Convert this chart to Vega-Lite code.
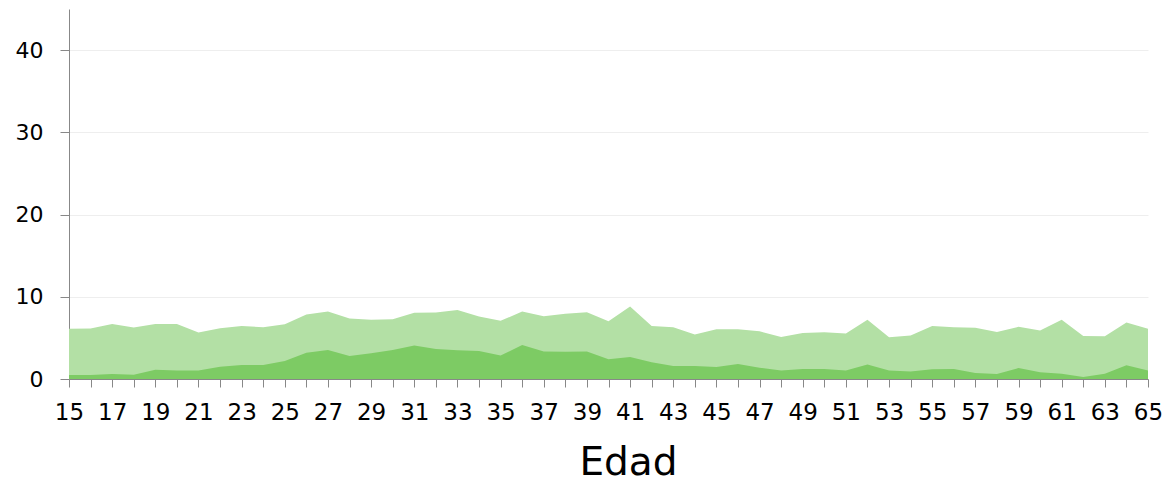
{
  "$schema": "https://vega.github.io/schema/vega-lite/v6.json",
  "width": 1079,
  "height": 370,
  "autosize": {"type": "none"},
  "padding": {"left": 69, "top": 9, "right": 20, "bottom": 105},
  "background": "white",
  "config": {"view": {"stroke": null}, "font": "DejaVu Sans"},
  "data": {
    "values": [
      {"edad":15,"low":0.49,"total":6.1},
      {"edad":16,"low":0.49,"total":6.14},
      {"edad":17,"low":0.61,"total":6.7},
      {"edad":18,"low":0.53,"total":6.26},
      {"edad":19,"low":1.14,"total":6.7},
      {"edad":20,"low":1.02,"total":6.7},
      {"edad":21,"low":1.02,"total":5.65},
      {"edad":22,"low":1.5,"total":6.18},
      {"edad":23,"low":1.7,"total":6.46},
      {"edad":24,"low":1.7,"total":6.3},
      {"edad":25,"low":2.2,"total":6.67},
      {"edad":26,"low":3.2,"total":7.85},
      {"edad":27,"low":3.54,"total":8.2},
      {"edad":28,"low":2.8,"total":7.36},
      {"edad":29,"low":3.13,"total":7.2},
      {"edad":30,"low":3.54,"total":7.28},
      {"edad":31,"low":4.07,"total":8.05},
      {"edad":32,"low":3.66,"total":8.1},
      {"edad":33,"low":3.5,"total":8.4},
      {"edad":34,"low":3.41,"total":7.6},
      {"edad":35,"low":2.85,"total":7.07},
      {"edad":36,"low":4.15,"total":8.2},
      {"edad":37,"low":3.33,"total":7.64},
      {"edad":38,"low":3.3,"total":7.93},
      {"edad":39,"low":3.33,"total":8.13},
      {"edad":40,"low":2.4,"total":7.03},
      {"edad":41,"low":2.68,"total":8.82},
      {"edad":42,"low":2.03,"total":6.46},
      {"edad":43,"low":1.59,"total":6.3},
      {"edad":44,"low":1.59,"total":5.4},
      {"edad":45,"low":1.46,"total":6.06},
      {"edad":46,"low":1.83,"total":6.06},
      {"edad":47,"low":1.38,"total":5.8},
      {"edad":48,"low":1.02,"total":5.12},
      {"edad":49,"low":1.22,"total":5.6},
      {"edad":50,"low":1.22,"total":5.7},
      {"edad":51,"low":1.02,"total":5.53},
      {"edad":52,"low":1.75,"total":7.2},
      {"edad":53,"low":1.02,"total":5.08},
      {"edad":54,"low":0.9,"total":5.28},
      {"edad":55,"low":1.18,"total":6.46},
      {"edad":56,"low":1.22,"total":6.3},
      {"edad":57,"low":0.73,"total":6.22},
      {"edad":58,"low":0.61,"total":5.73},
      {"edad":59,"low":1.34,"total":6.34},
      {"edad":60,"low":0.81,"total":5.9},
      {"edad":61,"low":0.65,"total":7.2},
      {"edad":62,"low":0.24,"total":5.24},
      {"edad":63,"low":0.65,"total":5.2},
      {"edad":64,"low":1.67,"total":6.87},
      {"edad":65,"low":1.02,"total":6.1}
    ]
  },
  "encoding": {
    "x": {
      "field": "edad",
      "type": "quantitative",
      "scale": {"domain": [15, 65], "nice": false, "zero": false},
      "axis": {
        "title": "Edad",
        "titleFontSize": 39,
        "titleFontWeight": "normal",
        "titleColor": "#000",
        "titlePadding": 19,
        "titleX": 559,
        "values": [15,16,17,18,19,20,21,22,23,24,25,26,27,28,29,30,31,32,33,34,35,36,37,38,39,40,41,42,43,44,45,46,47,48,49,50,51,52,53,54,55,56,57,58,59,60,61,62,63,64,65],
        "labelExpr": "datum.value % 2 == 1 ? datum.label : ''",
        "labelFontSize": 23,
        "labelColor": "#000",
        "labelPadding": 14,
        "labelOverlap": false,
        "labelFlush": false,
        "tickSize": 8,
        "tickColor": "#888",
        "domainColor": "#888",
        "grid": false
      }
    }
  },
  "layer": [
    {
      "mark": {"type": "area", "color": "#b3e0a5"},
      "encoding": {
        "y": {
          "field": "total",
          "type": "quantitative",
          "scale": {"domain": [0, 45], "nice": false},
          "axis": {
            "title": null,
            "values": [0, 10, 20, 30, 40],
            "labelFontSize": 22,
            "labelColor": "#000",
            "labelPadding": 17,
            "tickSize": 9,
            "tickColor": "#888",
            "domainColor": "#888",
            "grid": true,
            "gridColor": "#eeeeee"
          }
        }
      }
    },
    {
      "mark": {"type": "area", "color": "#7dcb64"},
      "encoding": {
        "y": {"field": "low", "type": "quantitative"}
      }
    }
  ]
}
